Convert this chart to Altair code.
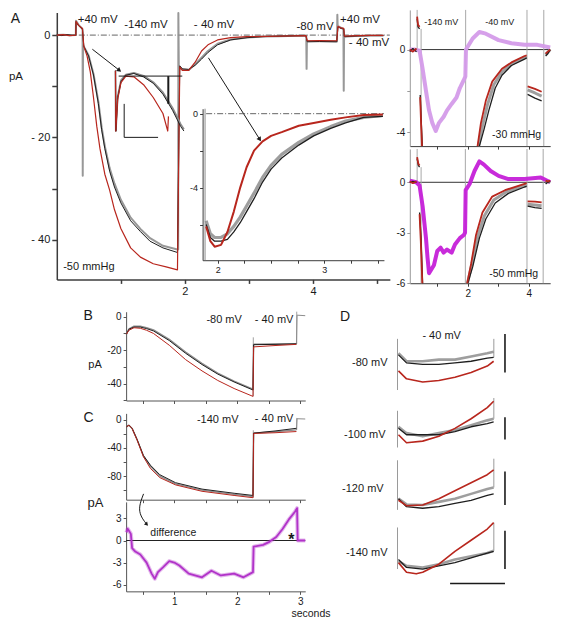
import altair as alt
import pandas as pd

FONT = "Liberation Sans"
W, H = 548, 612
SX, SY = W / 566.0, (H - 4) / 634.0

INK = "#1a1a1a"
BLACK_TR = "#1e1e1e"
GREY_TR = "#8d8d8d"
RED_TR = "#b8261d"
LILAC = "#d49be9"
MAGENTA = "#c520d8"
DIFF_COL = "#b133c9"
AX_DARK = "#3c3c3c"
AX_LIGHT = "#9a9a9a"

# ---------------- data: panel A, main traces (s, pA) ----------------
A_GREY_T = [0.0, 0.1, 0.2, 0.297, 0.30, 0.34, 0.40, 0.403, 0.405, 0.41, 0.422, 0.497, 0.573, 0.649, 0.70,
            0.75, 0.825, 0.90, 1.0, 1.153, 1.305, 1.456, 1.657, 1.884, 1.895, 1.898, 1.905, 1.96, 2.06, 2.16,
            2.26, 2.36, 2.51, 2.715, 2.97, 3.22, 3.47, 3.895, 3.90, 3.905, 4.1, 4.375, 4.38, 4.385, 4.44,
            4.475, 4.48, 4.485, 4.7, 4.9, 5.1]
A_GREY_V = [0.0, 0.05, -0.05, 0.0, 2.8, 2.0, 1.2, 1.0, -27.5, -2.5, -2.2, -4.0, -7.6, -13.0, -18.0,
            -21.7, -26.0, -29.0, -32.2, -35.7, -37.9, -39.7, -41.2, -41.9, -41.9, 4.3, -6.2, -6.7, -6.8, -5.7,
            -4.4, -3.1, -1.7, -0.85, -0.45, -0.28, -0.2, -0.1, -6.6, -1.2, -1.2, -1.25, 4.0, 1.8, 1.4,
            1.2, -10.9, -0.3, -0.15, -0.1, -0.1]
A_BLACK_T = [0.0, 0.08, 0.16, 0.24, 0.297, 0.30, 0.33, 0.37, 0.40, 0.422, 0.497, 0.573, 0.649, 0.70, 0.75,
             0.825, 0.90, 1.0, 1.153, 1.305, 1.456, 1.657, 1.884, 1.92, 1.96, 2.06, 2.16, 2.26, 2.36, 2.51,
             2.715, 2.97, 3.22, 3.47, 3.89, 3.91, 4.1, 4.37, 4.39, 4.44, 4.48, 4.49, 4.7, 4.9, 5.1]
A_BLACK_V = [0.05, -0.1, 0.1, -0.05, 0.0, 2.6, 2.0, 1.5, 1.2, -2.2, -4.1, -7.8, -13.4, -18.5, -22.2,
             -26.6, -29.7, -32.8, -36.3, -38.4, -40.3, -41.6, -42.5, -6.0, -6.6, -6.7, -5.9, -4.7, -3.4, -1.9,
             -0.94, -0.5, -0.3, -0.2, -0.1, -1.3, -1.25, -1.3, 1.6, 1.3, 1.2, -0.3, -0.15, -0.1, -0.1]
A_RED_T = [0.0, 0.1, 0.2, 0.297, 0.30, 0.34, 0.40, 0.422, 0.473, 0.523, 0.573, 0.624, 0.674, 0.75, 0.825,
           0.90, 1.0, 1.153, 1.305, 1.506, 1.707, 1.884, 1.92, 1.96, 2.06, 2.16, 2.26, 2.36, 2.51, 2.715,
           2.97, 3.47, 3.89, 3.91, 4.1, 4.37, 4.39, 4.44, 4.48, 4.49, 4.7, 4.9, 5.1]
A_RED_V = [0.0, 0.1, -0.1, 0.0, 2.7, 1.9, 1.3, -2.2, -4.1, -7.2, -12.2, -17.8, -22.2, -27.2, -30.3,
           -34.1, -37.8, -41.6, -43.4, -44.7, -45.3, -45.9, -6.2, -6.9, -6.9, -5.3, -3.1, -1.9, -0.94, -0.5,
           -0.3, -0.2, -0.1, -1.1, -1.05, -1.1, 1.7, 1.4, 1.3, -0.2, -0.1, -0.05, -0.05]

# big inset of panel A (s, pA)
IN_T = [1.89, 1.93, 1.97, 2.03, 2.09, 2.15, 2.21, 2.27, 2.34, 2.42, 2.5, 2.6, 2.76, 2.9, 3.06, 3.2, 3.37, 3.55]
IN_RED = [-6.1, -6.9, -7.2, -7.1, -6.4, -5.3, -4.0, -2.9, -2.0, -1.5, -1.2, -1.0, -0.65, -0.5, -0.33, -0.2, -0.07, -0.05]
IN_BLACK = [-6.0, -6.7, -6.9, -6.9, -6.8, -6.4, -5.9, -5.3, -4.6, -3.7, -3.0, -2.4, -1.7, -1.2, -0.8, -0.5, -0.2, -0.15]
IN_GREY = [-5.8, -6.5, -6.7, -6.7, -6.5, -6.1, -5.6, -5.0, -4.3, -3.45, -2.8, -2.2, -1.55, -1.1, -0.7, -0.4, -0.2, -0.1]

# small magnified inset of panel A (relative units)
SI_X = [0.0, 0.005, 0.032, 0.079, 0.149, 0.264, 0.403, 0.542, 0.681, 0.819, 0.935, 0.982]
SI_BLACK = [0.05, -1.0, -0.42, -0.14, -0.03, 0.0, -0.06, -0.17, -0.36, -0.64, -0.92, -1.0]
SI_GREY = [0.05, -1.0, -0.40, -0.12, -0.02, 0.01, -0.04, -0.15, -0.33, -0.60, -0.88, -0.97]
SI_RED_X = [0.0, 0.005, 0.032, 0.079, 0.149, 0.264, 0.403, 0.542, 0.681, 0.75, 0.76]
SI_RED = [0.05, -1.0, -0.445, -0.16, -0.045, -0.057, -0.195, -0.417, -0.695, -1.0, -0.745]

# right top panel, -30 mmHg (s, pA)
RT_LILAC_T = [0.1, 0.26, 0.42, 0.52, 0.63, 0.73, 0.84, 0.95, 1.05, 1.21, 1.32, 1.47, 1.63, 1.74, 1.87, 1.92,
              1.94, 2.16, 2.38, 2.59, 3.01, 3.43, 3.86, 4.28, 4.7]
RT_LILAC_V = [0.0, 0.0, -0.05, -0.93, -2.0, -2.94, -3.56, -3.94, -3.56, -3.25, -2.94, -2.63, -2.32, -1.86, -1.47, -1.3,
              0.0, 0.54, 0.85, 0.77, 0.46, 0.31, 0.23, 0.23, 0.1]
RT_BLACK_T = [[0.1, 0.2, 0.32], [0.34, 0.37, 0.42], [0.44, 0.47, 0.51],
              [2.38, 2.53, 2.69, 2.9, 3.12, 3.43, 3.86, 3.93], [3.96, 4.2, 4.42], [4.55, 4.62, 4.7]]
RT_BLACK_V = [[-0.1, 0.05, -0.1], [1.5, 1.1, 1.0], [-2.2, -3.3, -4.67],
              [-4.67, -3.87, -2.94, -1.86, -1.24, -0.77, -0.46, -0.4], [-2.17, -2.35, -2.48], [-0.31, -0.2, 0.0]]
RT_RED_T = [[0.1, 0.2, 0.32], [0.34, 0.37, 0.42], [0.44, 0.47, 0.50],
            [2.32, 2.43, 2.59, 2.8, 3.12, 3.43, 3.86, 3.93], [3.96, 4.2, 4.42], [4.55, 4.62, 4.7]]
RT_RED_V = [[0.0, -0.1, 0.05], [1.6, 1.2, 1.1], [-2.3, -3.6, -4.67],
            [-4.67, -3.56, -2.48, -1.55, -0.93, -0.62, -0.31, -0.28], [-1.78, -1.9, -2.04], [-0.2, -0.1, 0.0]]
RT_GREY_T = [[2.35, 2.48, 2.64, 2.85, 3.12, 3.43, 3.86, 3.93], [3.96, 4.2, 4.42], [4.55, 4.62, 4.7]]
RT_GREY_V = [[-4.67, -3.7, -2.7, -1.7, -1.08, -0.7, -0.38, -0.35], [-1.95, -2.1, -2.25], [-0.25, -0.15, 0.0]]
RT_TR_T = [0.34, 0.47, 1.93, 3.94, 4.49]
RT_TR_LO = [0.0, -4.67, -4.67, -4.67, -4.67]
RT_TR_HI = [1.92, 1.0, 1.92, 1.92, 1.92]

# right bottom panel, -50 mmHg (s, pA)
RB_MAG_T = [0.1, 0.31, 0.42, 0.52, 0.63, 0.68, 0.73, 0.79, 0.89, 1.0, 1.11, 1.21, 1.32, 1.47, 1.58, 1.74, 1.87, 1.91,
            1.93, 2.06, 2.22, 2.38, 2.53, 2.75, 3.01, 3.33, 3.86, 4.39, 4.7]
RB_MAG_V = [0.1, 0.0, -0.19, -1.42, -3.32, -4.46, -5.4, -5.22, -4.93, -4.08, -3.89, -4.18, -4.0, -4.18, -3.7, -3.32,
            -3.13, -3.0, -0.47, -0.1, 0.67, 1.24, 1.05, 0.67, 0.38, 0.19, 0.19, 0.28, 0.0]
RB_BLACK_T = [[0.1, 0.2, 0.32], [0.34, 0.38, 0.42], [0.42, 0.47, 0.52],
              [2.0, 2.16, 2.38, 2.59, 2.9, 3.33, 3.86, 3.93], [3.96, 4.2, 4.42], [4.55, 4.62, 4.7]]
RB_BLACK_V = [[0.0, 0.05, 0.0], [1.4, 1.0, 0.9], [-1.8, -3.32, -6.0],
              [-6.0, -5.03, -3.32, -2.18, -1.23, -0.66, -0.28, -0.25], [-1.42, -1.5, -1.55], [-0.1, 0.0, 0.05]]
RB_RED_T = [[0.1, 0.2, 0.32], [0.34, 0.38, 0.42], [0.42, 0.46, 0.51],
            [1.98, 2.11, 2.27, 2.48, 2.8, 3.22, 3.86, 3.93], [3.96, 4.2, 4.42], [4.55, 4.62, 4.7]]
RB_RED_V = [[0.05, -0.05, 0.05], [1.5, 1.1, 1.0], [-1.9, -3.5, -6.0],
            [-6.0, -4.84, -3.13, -1.8, -0.85, -0.47, -0.09, -0.05], [-1.14, -1.15, -1.2], [0.1, 0.05, 0.1]]
RB_GREY_T = [[1.99, 2.13, 2.33, 2.54, 2.85, 3.28, 3.86, 3.93], [3.96, 4.2, 4.42], [4.55, 4.62, 4.7]]
RB_GREY_V = [[-6.0, -4.9, -3.2, -2.0, -1.05, -0.55, -0.2, -0.15], [-1.3, -1.35, -1.4], [0.0, 0.05, 0.0]]
RB_TR_T = [0.34, 0.47, 1.92, 3.94, 4.47]
RB_TR_LO = [0.0, -6.0, -6.0, -6.0, -6.0]
RB_TR_HI = [1.98, 0.9, 1.98, 1.98, 1.98]

# panel B (s, pA)
B_T = [0.24, 0.28, 0.36, 0.46, 0.56, 0.67, 0.92, 1.18, 1.44, 1.69, 1.95, 2.25, 2.26, 2.6, 2.94]
B_BLACK = [-10.5, -7.6, -6.3, -6.3, -7.2, -8.6, -14.3, -21.9, -28.6, -34.3, -39.0, -43.8, -16.8, -16.6, -16.3]
B_GREY = [-10.5, -7.3, -5.8, -5.7, -6.6, -8.0, -13.6, -21.2, -27.9, -33.7, -38.5, -43.3, -16.5, -16.4, -16.2]
B_RED = [-10.5, -8.2, -6.7, -7.0, -8.2, -10.1, -17.1, -25.7, -32.4, -38.1, -42.9, -47.6, -18.1, -17.3, -16.6]
B_END_T = [2.94, 2.95, 3.08]
B_END_V = [-16.2, 0.8, 0.5]
B_TR_T = [2.255, 2.945]
B_TR_LO = [-47.6, -16.3]
B_TR_HI = [-12.4, 2.9]

# panel C (s, pA)
C_T = [0.24, 0.28, 0.33, 0.41, 0.51, 0.62, 0.77, 1.02, 1.44, 1.95, 2.25, 2.26, 2.6, 2.94]
C_BLACK = [-10.1, -7.8, -12.2, -28.2, -50.9, -64.5, -78.1, -89.4, -98.5, -104.4, -107.5, -19.0, -16.0, -12.2]
C_GREY = [-10.1, -7.8, -12.3, -28.5, -51.5, -66.0, -80.0, -91.0, -100.0, -106.0, -109.0, -19.2, -17.0, -14.5]
C_RED = [-10.1, -7.8, -12.5, -29.0, -52.5, -69.0, -82.2, -92.5, -101.6, -107.5, -110.7, -19.5, -18.5, -16.8]
C_END_T = [2.94, 2.95, 3.08]
C_END_V = [-14.5, 1.4, 1.0]
C_TR_T = [2.255, 2.945]
C_TR_LO = [-110.7, -14.5]
C_TR_HI = [-15.0, 2.5]

# difference trace under C (s, pA)
DF_T = [0.24, 0.26, 0.31, 0.33, 0.38, 0.46, 0.56, 0.64, 0.69, 0.74, 0.82, 0.92, 1.0, 1.08, 1.23, 1.44, 1.59, 1.74,
        1.95, 2.1, 2.25, 2.26, 2.41, 2.51, 2.62, 2.72, 2.82, 2.92, 2.95, 2.96, 3.08]
DF_V = [1.1, 1.6, 0.9, -1.04, -1.5, -1.9, -3.0, -4.5, -5.2, -4.3, -3.65, -2.8, -3.0, -3.4, -4.5, -5.0, -4.1, -4.75,
        -4.5, -5.0, -4.3, -0.83, -0.6, -0.18, 0.47, 1.56, 2.87, 3.95, 4.4, 0.0, 0.0]

# panel D (relative units, 4 groups)
D_X = [0.01, 0.093, 0.26, 0.427, 0.593, 0.76, 0.927, 0.993]
D_BLACK = [[1.2, 0.95, 0.9, 0.9, 0.95, 1.0, 1.1, 1.12],
           [0.9, 0.7, 0.7, 0.7, 0.8, 0.95, 1.05, 1.1],
           [0.7, 0.45, 0.4, 0.45, 0.55, 0.65, 0.8, 0.85],
           [0.8, 0.55, 0.5, 0.6, 0.7, 0.85, 1.0, 1.05]]
D_GREY = [[1.25, 1.0, 1.0, 1.05, 1.05, 1.15, 1.25, 1.3],
          [0.95, 0.75, 0.65, 0.75, 0.85, 1.0, 1.15, 1.2],
          [0.7, 0.52, 0.5, 0.6, 0.7, 0.85, 1.0, 1.05],
          [0.75, 0.6, 0.55, 0.65, 0.8, 0.9, 1.0, 1.07]]
D_RED_X = [[0.01, 0.093, 0.26, 0.427, 0.593, 0.76, 0.927, 0.993],
           [0.01, 0.093, 0.26, 0.427, 0.593, 0.76, 0.927, 0.993],
           [0.01, 0.093, 0.26, 0.427, 0.593, 0.76, 0.927, 0.993],
           [0.01, 0.093, 0.193, 0.26, 0.427, 0.593, 0.76, 0.927, 0.993]]
D_RED = [[0.7, 0.45, 0.35, 0.4, 0.5, 0.65, 0.85, 1.0],
         [0.7, 0.45, 0.5, 0.65, 0.9, 1.2, 1.55, 1.75],
         [0.65, 0.48, 0.5, 0.7, 0.95, 1.2, 1.45, 1.6],
         [0.7, 0.4, 0.35, 0.4, 0.65, 1.05, 1.4, 1.75, 1.95]]
D_TR_START = [[0.1, 1.7], [0.3, 1.45], [0.35, 1.9], [0.5, 1.8]]
D_TR_END = [[1.12, 1.7], [1.2, 1.85], [1.05, 1.95], [1.07, 1.95]]
D_BAR = [[0.65, 1.85], [0.55, 1.25], [0.5, 1.55], [0.5, 1.7]]
D_LABELS = ["-80 mV", "-100 mV", "-120 mV", "-140 mV"]
D_LABEL_V = [0.95, 0.70, 0.99, 1.01]
D_LABEL_T = [-0.103, -0.123, -0.143, -0.103]


# ---------------- helpers ----------------
class Panel:
    def __init__(self, xdom, ydom, xpx, ypx):
        self.xdom, self.ydom = xdom, ydom
        self.xr = [xpx[0] * SX, xpx[1] * SX]
        self.yr = [ypx[1] * SY, ypx[0] * SY]

    def X(self, f="t", axis=None):
        return alt.X(f"{f}:Q", scale=alt.Scale(domain=self.xdom, range=self.xr, nice=False, zero=False), axis=axis)

    def Y(self, f="v", axis=None):
        return alt.Y(f"{f}:Q", scale=alt.Scale(domain=self.ydom, range=self.yr, nice=False, zero=False), axis=axis)


def lab_expr(pairs):
    expr = "''"
    for val, txt in reversed(pairs):
        expr = f"abs(datum.value - ({val})) < 0.000001 ? '{txt}' : ({expr})"
    return expr


def axis_left(x_ref, values, pairs, size=10.0, color=AX_DARK, width=1.0, tick=4):
    return alt.Axis(orient="left", offset=-x_ref * SX, values=values, labelExpr=lab_expr(pairs), title=None,
                    grid=False, labelFont=FONT, labelFontSize=size, labelColor=INK, domainColor=color,
                    domainWidth=width, tickColor=color, tickWidth=width, tickSize=tick, labelPadding=2,
                    labelFlush=False, labelOverlap=False)


def axis_bottom(y_ref, values, pairs, size=10.0, color=AX_DARK, width=1.0, tick=4):
    return alt.Axis(orient="bottom", offset=y_ref * SY - H, values=values, labelExpr=lab_expr(pairs), title=None,
                    grid=False, labelFont=FONT, labelFontSize=size, labelColor=INK, domainColor=color,
                    domainWidth=width, tickColor=color, tickWidth=width, tickSize=tick, labelPadding=2,
                    labelFlush=False, labelOverlap=False)


def seg_frame(ts, vs):
    if len(ts) and not isinstance(ts[0], (list, tuple)):
        ts, vs = [ts], [vs]
    rows = []
    for s, (tt, vv) in enumerate(zip(ts, vs)):
        assert len(tt) == len(vv), (tt, vv)
        for i, (a, b) in enumerate(zip(tt, vv)):
            rows.append({"t": a, "v": b, "s": s, "i": i})
    return pd.DataFrame(rows)


def trace(p, ts, vs, color, width=1.0, opacity=1.0, interp="linear"):
    return alt.Chart(seg_frame(ts, vs)).mark_line(
        color=color, strokeWidth=width, opacity=opacity, interpolate=interp, strokeJoin="round"
    ).encode(x=p.X(), y=p.Y(), detail="s:N", order="i:Q")


def hline(p, t0, t1, v, color, width=1.0, dash=None, xaxis=None, yaxis=None):
    df = pd.DataFrame({"t": [t0], "t2": [t1], "v": [v]})
    kw = dict(color=color, strokeWidth=width)
    if dash:
        kw["strokeDash"] = dash
    return alt.Chart(df).mark_rule(**kw).encode(x=p.X(axis=xaxis), x2="t2:Q", y=p.Y(axis=yaxis))


def vlines(p, ts, lo, hi, color, width=1.0):
    df = pd.DataFrame({"t": ts, "v": lo, "v2": hi})
    return alt.Chart(df).mark_rule(color=color, strokeWidth=width).encode(x=p.X(), y=p.Y(), y2="v2:Q")


def labels(p, txt, ts, vs, size=11.0, align="left", color=INK, weight="normal"):
    df = pd.DataFrame({"label": txt, "t": ts, "v": vs})
    return alt.Chart(df).mark_text(align=align, baseline="middle", font=FONT, fontSize=size, color=color,
                                   fontWeight=weight).encode(x=p.X(), y=p.Y(), text="label:N")


def head(p, t, v, angle, size=26):
    df = pd.DataFrame({"t": [t], "v": [v]})
    return alt.Chart(df).mark_point(shape="triangle-up", filled=True, size=size, angle=angle, color=INK,
                                    opacity=1).encode(x=p.X(), y=p.Y())


layers = []

# ---------------- panel A ----------------
PA = Panel([0, 5.2], [-47.76, 4.4], (50.4, 394.4), (4.8, 283))
layers.append(hline(PA, 0, 5.2, 0, "#555", 0.9, [6, 2, 1, 2],
                    xaxis=axis_bottom(283, [1, 2, 3, 4, 5], [(2, "2"), (4, "4")], size=11, width=1.5, tick=4),
                    yaxis=axis_left(50.4, [-40, -30, -20, -10, 0], [(-40, "- 40"), (-20, "- 20"), (0, "0")],
                                    size=11, width=1.5, tick=5)))
layers.append(trace(PA, A_GREY_T, A_GREY_V, GREY_TR, 2.0, 0.9))
layers.append(trace(PA, A_BLACK_T, A_BLACK_V, BLACK_TR, 1.0))
layers.append(trace(PA, A_RED_T, A_RED_V, RED_TR, 1.2))
layers.append(trace(PA, [0.555, 0.977], [-2.76, -6.88], INK, 1.0))
layers.append(head(PA, 0.977, -6.88, 129))
layers.append(trace(PA, [2.367, 3.169], [-4.44, -20.4], INK, 1.0))
layers.append(head(PA, 3.169, -20.4, 148))
layers.append(labels(PA, ["A"], [-0.717], [3.06], size=14))
layers.append(labels(PA, ["pA", "+40 mV", "-140 mV", "- 40 mV", "-80 mV", "+40 mV", "- 40 mV"],
                     [-0.747, 0.327, 1.052, 2.14, 3.743, 4.423, 4.56],
                     [-8.19, 2.87, 1.93, 1.93, 1.56, 2.87, -1.63], size=11.5))
layers.append(labels(PA, ["-50 mmHg"], [0.10], [-45.3], size=11))

# big inset
PIN = Panel([1.857, 3.56], [-7.93, 0.27], (201, 388.3), (105, 263))
layers.append(hline(PIN, 1.89, 3.56, 0, "#555", 0.9, [6, 2, 1, 2],
                    xaxis=axis_bottom(263, [2, 2.25, 2.5, 2.75, 3, 3.25, 3.5], [(2, "2"), (3, "3")], size=9, tick=3),
                    yaxis=axis_left(201, [0, -2, -4, -6], [(0, "0"), (-4, "-4")], size=9, tick=3)))
layers.append(vlines(PIN, [1.88], [-7.93], [0.27], GREY_TR, 1.0))
layers.append(trace(PIN, IN_T, IN_GREY, GREY_TR, 3.2, 0.85))
layers.append(trace(PIN, IN_T, IN_BLACK, BLACK_TR, 1.3))
layers.append(trace(PIN, IN_T, IN_RED, RED_TR, 2.0))

# small magnified inset
PSI = Panel([0, 1], [-1, 0], (111, 183), (68.3, 128.3))
layers.append(trace(PSI, SI_X, SI_GREY, GREY_TR, 1.8))
layers.append(trace(PSI, SI_X, SI_BLACK, BLACK_TR, 1.0))
layers.append(trace(PSI, SI_RED_X, SI_RED, RED_TR, 1.2))
layers.append(hline(PSI, 0.046, 0.958, -0.045, INK, 1.0))
layers.append(vlines(PSI, [0.758], [-0.528], [-0.045], INK, 2.0))
layers.append(vlines(PSI, [0.125], [-1.11], [-0.528], INK, 1.0))
layers.append(hline(PSI, 0.125, 0.611, -1.11, INK, 1.0))

# ---------------- right panels ----------------
PRT = Panel([0.1, 4.7], [-4.67, 1.92], (415, 560), (2, 144))
layers.append(hline(PRT, 0.1, 4.7, 0, "#333", 1.0,
                    xaxis=axis_bottom(144, [1, 2, 3, 4], [], size=10, tick=3),
                    yaxis=axis_left(415, [0, -2, -4], [(0, "0"), (-4, "-4")], size=10, color=AX_LIGHT, tick=3)))
layers.append(vlines(PRT, RT_TR_T, RT_TR_LO, RT_TR_HI, "#a8a8a8", 1.0))
layers.append(trace(PRT, RT_LILAC_T, RT_LILAC_V, LILAC, 4.0, 0.95))
layers.append(trace(PRT, RT_GREY_T, RT_GREY_V, GREY_TR, 3.0, 0.85))
layers.append(trace(PRT, RT_BLACK_T, RT_BLACK_V, BLACK_TR, 1.3))
layers.append(trace(PRT, RT_RED_T, RT_RED_V, RED_TR, 1.8))
layers.append(labels(PRT, ["-140 mV", "-40 mV"], [0.576, 2.575], [1.32, 1.32], size=9))
layers.append(labels(PRT, ["-30 mmHg"], [2.797], [-4.11], size=10.5))

PRB = Panel([0.1, 4.7], [-6, 1.98], (415, 560), (147, 287))
layers.append(hline(PRB, 0.1, 4.7, 0, "#333", 1.0,
                    xaxis=axis_bottom(287, [1, 2, 3, 4], [(2, "2"), (4, "4")], size=10, tick=3),
                    yaxis=axis_left(415, [0, -3, -6], [(0, "0"), (-3, "-3"), (-6, "-6")], size=10,
                                    color=AX_LIGHT, tick=3)))
layers.append(vlines(PRB, RB_TR_T, RB_TR_LO, RB_TR_HI, "#a8a8a8", 1.0))
layers.append(trace(PRB, RB_MAG_T, RB_MAG_V, MAGENTA, 4.0, 0.95))
layers.append(trace(PRB, RB_GREY_T, RB_GREY_V, GREY_TR, 3.0, 0.85))
layers.append(trace(PRB, RB_BLACK_T, RB_BLACK_V, BLACK_TR, 1.3))
layers.append(trace(PRB, RB_RED_T, RB_RED_V, RED_TR, 1.8))
layers.append(labels(PRB, ["-50 mmHg"], [2.70], [-5.43], size=10.5))

# ---------------- panel B ----------------
TICKS_T = [0.5, 1.0, 1.5, 2.0, 2.5, 3.0]
PB = Panel([0.235, 3.08], [-50.06, 2.86], (122, 307), (316.7, 409.3))
layers.append(vlines(PB, B_TR_T, B_TR_LO, B_TR_HI, "#a0a0a0", 1.0).encode(
    x=PB.X(axis=axis_bottom(409.3, TICKS_T, [], tick=3, color="#555")),
    y=PB.Y(axis=axis_left(122, [0, -10, -20, -30, -40, -50], [(0, "0"), (-20, "-20"), (-40, "-40")],
                          size=10, tick=3, color="#555"))))
layers.append(trace(PB, B_END_T, B_END_V, GREY_TR, 1.0))
layers.append(trace(PB, B_T, B_GREY, GREY_TR, 1.4))
layers.append(trace(PB, B_T, B_BLACK, BLACK_TR, 1.0))
layers.append(trace(PB, B_T, B_RED, RED_TR, 1.0))
layers.append(labels(PB, ["B"], [-0.44], [0.4], size=14))
layers.append(labels(PB, ["pA", "-80 mV", "- 40 mV"], [-0.365, 1.51, 2.28], [-28.7, -1.9, -1.9], size=11))

# ---------------- panel C ----------------
PC = Panel([0.235, 3.08], [-113.5, 9], (122, 307), (422.7, 512.7))
layers.append(vlines(PC, C_TR_T, C_TR_LO, C_TR_HI, "#a0a0a0", 1.0).encode(
    x=PC.X(axis=axis_bottom(512.7, TICKS_T, [], tick=3, color="#555")),
    y=PC.Y(axis=axis_left(122, [0, -20, -40, -60, -80, -100], [(0, "0"), (-40, "-40"), (-80, "-80")],
                          size=10, tick=3, color="#555"))))
layers.append(trace(PC, C_END_T, C_END_V, GREY_TR, 1.0))
layers.append(trace(PC, C_T, C_GREY, GREY_TR, 1.4))
layers.append(trace(PC, C_T, C_BLACK, BLACK_TR, 1.0))
layers.append(trace(PC, C_T, C_RED, RED_TR, 1.0))
layers.append(labels(PC, ["C"], [-0.44], [3.1], size=14))
layers.append(labels(PC, ["-140 mV", "- 40 mV"], [1.36, 2.28], [-1.0, 0.4], size=11))

# ---------------- difference ----------------
PDIF = Panel([0.235, 3.08], [-6.91, 5.25], (122, 307), (515, 608.3))
layers.append(hline(PDIF, 0.235, 3.08, 0, "#222", 1.0,
                    xaxis=axis_bottom(608.3, TICKS_T, [(1, "1"), (2, "2"), (3, "3")], size=10, tick=3, color="#555"),
                    yaxis=axis_left(122, [3, 0, -3, -6], [(3, "3"), (0, "0"), (-3, "-3"), (-6, "-6")],
                                    size=10, tick=3, color="#555")))
layers.append(trace(PDIF, DF_T, DF_V, DIFF_COL, 4.0, 0.35))
layers.append(trace(PDIF, DF_T, DF_V, DIFF_COL, 1.8))
layers.append(trace(PDIF, [0.512, 0.435, 0.462, 0.563], [6.34, 4.6, 3.3, 2.2], INK, 1.0, interp="basis"))
layers.append(head(PDIF, 0.563, 2.2, 138, size=18))
layers.append(labels(PDIF, ["pA"], [-0.38], [5.12], size=13))
layers.append(labels(PDIF, ["difference"], [0.62], [1.08], size=10.5))
layers.append(labels(PDIF, ["*"], [2.81], [0.1], size=16, weight="bold"))
layers.append(labels(PDIF, ["seconds"], [2.86], [-10.0], size=10.5))

# ---------------- panel D ----------------
D_BOX = [(335, 401.7), (401.7, 468.3), (468.3, 535), (535, 601.7)]
for g in range(4):
    PG = Panel([0, 1], [0, 2], (402.3, 502.3), D_BOX[g])
    layers.append(vlines(PG, [0.0, 0.995], [D_TR_START[g][0], D_TR_END[g][0]],
                         [D_TR_START[g][1], D_TR_END[g][1]], "#9a9a9a", 1.0))
    layers.append(trace(PG, D_X, D_GREY[g], GREY_TR, 2.6, 0.85))
    layers.append(trace(PG, D_X, D_BLACK[g], BLACK_TR, 1.3))
    layers.append(trace(PG, D_RED_X[g], D_RED[g], RED_TR, 1.6))
    layers.append(vlines(PG, [1.11], [D_BAR[g][0]], [D_BAR[g][1]], INK, 1.6))
    layers.append(labels(PG, [D_LABELS[g]], [D_LABEL_T[g]], [D_LABEL_V[g]], size=11, align="right"))
    if g == 0:
        layers.append(labels(PG, ["D"], [-0.593], [2.39], size=14))
        layers.append(labels(PG, ["- 40 mV"], [0.257], [1.79], size=11))
    if g == 3:
        layers.append(hline(PG, 0.543, 1.11, 0.05, INK, 1.6))

chart = (
    alt.layer(*layers)
    .resolve_scale(x="independent", y="independent")
    .properties(width=W, height=H, autosize=alt.AutoSizeParams(type="none"), padding=0)
    .configure_view(stroke=None)
)

chart.save("out.html", embed_options={"renderer": "svg", "actions": False})
